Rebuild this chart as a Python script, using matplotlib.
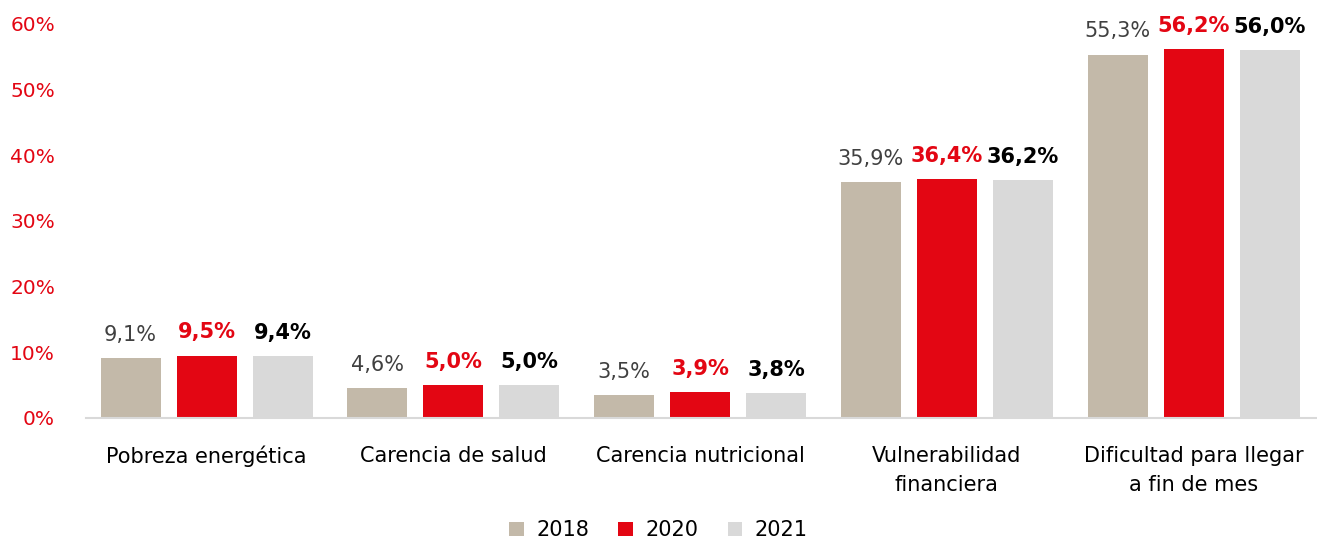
import numpy as np
import matplotlib.pyplot as plt

categories = ["Pobreza energética", "Carencia de salud", "Carencia nutricional",
              "Vulnerabilidad\nfinanciera", "Dificultad para llegar\na fin de mes"]
years = ["2018", "2020", "2021"]
v2018 = [9.1, 4.6, 3.5, 35.9, 55.3]
v2020 = [9.5, 5.0, 3.9, 36.4, 56.2]
v2021 = [9.4, 5.0, 3.8, 36.2, 56.0]

bar_colors = ["#C3B9A9", "#E30613", "#D9D9D9"]
label_colors = ["#404040", "#E30613", "#000000"]
label_weights = ["normal", "bold", "bold"]

fig = plt.figure(figsize=(13.17, 5.4), dpi=100)
ax = fig.add_axes([0.065, 0.226, 0.935, 0.73])

x = np.arange(len(categories))
width = 0.243
step = 0.308
for i, (vals, year) in enumerate(zip([v2018, v2020, v2021], years)):
    pos = x + (i - 1) * step
    ax.bar(pos, vals, width, color=bar_colors[i], label=year)
    for p, v in zip(pos, vals):
        ax.text(p, v + 2.0, f"{v:.1f}%".replace(".", ","), ha="center", va="bottom",
                fontsize=15, color=label_colors[i], fontweight=label_weights[i])

ax.set_xlim(-0.49, 4.5)
ax.set_ylim(0, 60)
ax.set_yticks(np.arange(0, 61, 10))
ax.set_yticklabels([f"{t}%" for t in range(0, 61, 10)], color="#E30613", fontsize=14.5)
ax.set_xticks(x)
ax.set_xticklabels(categories, fontsize=15, linespacing=1.6, va="top")
ax.tick_params(axis="both", length=0)
ax.tick_params(axis="x", pad=20)
ax.tick_params(axis="y", pad=22)
for s in ["top", "right", "left"]:
    ax.spines[s].set_visible(False)
ax.spines["bottom"].set_color("#D9D9D9")
ax.spines["bottom"].set_linewidth(1.5)

fig.legend(loc="lower center", bbox_to_anchor=(0.5, -0.035), ncol=3, frameon=False,
           fontsize=15, handlelength=0.7, handleheight=0.7, handletextpad=0.6,
           columnspacing=1.4)

fig.savefig("out.png", dpi=100)
